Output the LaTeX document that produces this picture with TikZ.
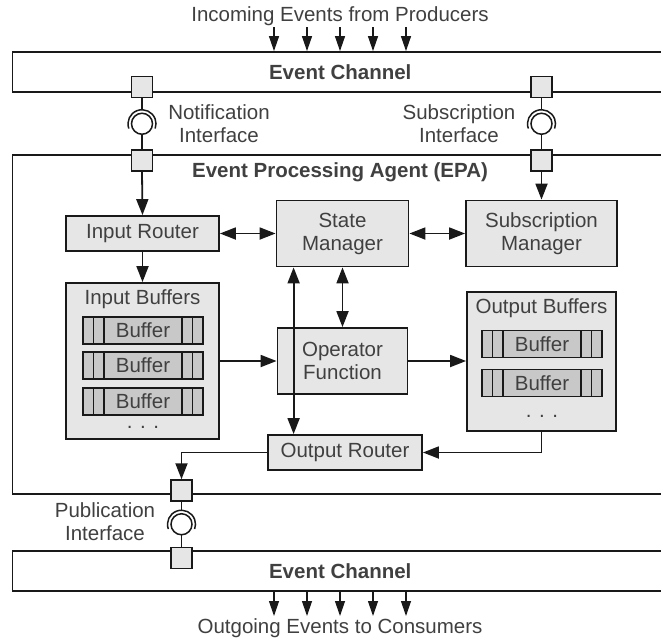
\documentclass[tikz,border=0pt]{standalone}
\usepackage{fontspec}
\setmainfont{Liberation Sans}
\usetikzlibrary{positioning,arrows.meta,calc}
\definecolor{boxgray}{RGB}{230,230,230}
\definecolor{bufgray}{RGB}{200,200,200}
\definecolor{txtgray}{RGB}{64,64,64}
\definecolor{linegray}{RGB}{25,25,25}

\begin{document}
\begin{tikzpicture}[x=1pt,y=-1pt,>={Triangle[length=16pt,width=12pt]},
		every node/.style={text=txtgray,font=\fontsize{20.5}{23}\selectfont}]
		\tikzstyle{block}=[draw=linegray,fill=boxgray,line width=1.8pt,inner sep=0pt,align=center]
		\tikzstyle{channel}=[draw=linegray,fill=white,line width=1.8pt,minimum width=655.5pt,minimum height=40pt,inner sep=0pt,font=\fontsize{20.5}{23}\selectfont\bfseries]
		\tikzstyle{port}=[draw=linegray,fill=boxgray,line width=1.5pt,minimum size=21pt,inner sep=0pt]
		\tikzstyle{buffer}=[draw=linegray,fill=bufgray,line width=1.5pt,minimum width=120pt,minimum height=27pt,inner sep=0pt,outer sep=0pt]
		\tikzstyle{flow}=[->,draw=linegray,line width=1.8pt]
		\tikzstyle{evt}=[-{Triangle[length=15pt,width=10pt]},draw=linegray,line width=1.2pt]
		\tikzstyle{iface}=[draw=linegray,line width=1.5pt]
		\useasboundingbox (0,0) rectangle (661,643);
		% channels and agent
		\node[channel]  (ch1) at (340.25,72)  {Event Channel};
		\node[channel]  (ch2) at (340.25,571) {Event Channel};
		\node[draw=linegray,line width=1.8pt,minimum width=655.5pt,minimum height=339pt] (epa) at (340.25,324.5) {};
		\node[font=\fontsize{20.5}{23}\selectfont\bfseries] (epat) at (340,172) {Event Processing Agent (EPA)};
		\node (tin)  at (340,16)  {Incoming Events from Producers};
		\node (tout) at (340,628) {Outgoing Events to Consumers};
		% ports
		\node[port] (p1) at (142,87)      {};
		\node[port] (p2) at (142,160.5)   {};
		\node[port] (p3) at (541.5,87)    {};
		\node[port] (p4) at (541.5,160.5) {};
		\node[port] (p5) at (181.5,490.5) {};
		\node[port] (p6) at (181.5,558)   {};
		\foreach \a/\b in {p1/p2,p3/p4,p5/p6}{
			\coordinate (ifc) at ($(\a.south)!0.5!(\b.north)$);
			\draw[iface] (\a.south) -- ([yshift=14pt]ifc);
			\draw[iface] ([shift={(200:14pt)}]ifc) arc[start angle=200,end angle=-20,radius=14pt];
			\draw[iface] (ifc) circle[radius=10.5pt];
			\draw[iface] ([yshift=-10.5pt]ifc) -- (\b.north);
		}
		\node[align=center] (nif) at (219,124) {Notification\\Interface};
		\node[align=center] (sif) at (459,124) {Subscription\\Interface};
		\node[align=center] (pif) at (105,522) {Publication\\Interface};
		% blocks
		\node[block,minimum width=153pt,minimum height=35pt]  (ir)   at (142.5,233.5) {Input Router};
		\node[block,minimum width=132pt,minimum height=66pt]  (sm)   [right of=ir,node distance=200pt] {State\\Manager};
		\node[block,minimum width=151pt,minimum height=66pt]  (subm) [right of=sm,node distance=199pt] {Subscription\\Manager};
		\node[block,minimum width=153pt,minimum height=156pt] (ib)   [below of=ir,node distance=127.5pt] {};
		\node[block,minimum width=130pt,minimum height=66pt]  (of)   [below of=sm,node distance=127.5pt] {Operator\\Function};
		\node[block,minimum width=149pt,minimum height=139pt] (ob)   [below of=subm,node distance=128pt] {};
		\node[block,minimum width=154pt,minimum height=35pt]  (or)   at (345,452.5) {Output Router};
		\node (ibt) at ([yshift=-17pt]ib.north) {Input Buffers};
		\node (obt) at ([yshift=-17pt]ob.north) {Output Buffers};
		% buffers
		\node[buffer] (ib1) at (143,330.5) {Buffer};
		\node[buffer] (ib2) at (143,365.5) {Buffer};
		\node[buffer] (ib3) at (143,401.5) {Buffer};
		\node[inner sep=0pt] (ibd) at (143,427) {. . .};
		\node[buffer] (ob1) at (542,344) {Buffer};
		\node[buffer] (ob2) at (542,383) {Buffer};
		\node[inner sep=0pt] (obd) at (542,416) {. . .};
		\foreach \b in {ib1,ib2,ib3,ob1,ob2}{
			\foreach \d in {10.5,21}{
				\draw[linegray,line width=1.3pt] ([xshift=\d pt]\b.north west) -- ([xshift=\d pt]\b.south west);
				\draw[linegray,line width=1.3pt] ([xshift=-\d pt]\b.north east) -- ([xshift=-\d pt]\b.south east);
			}
		}
		% events in and out
		\foreach \x in {274,307,340,373,406}{
			\coordinate (in\x) at (\x,27);
			\draw[evt] (in\x) -- (in\x |- ch1.north);
			\coordinate (out\x) at (\x,616);
			\draw[evt] (out\x |- ch2.south) -- (out\x);
		}
		% flows
		\path
		(p2.south) edge[flow] (ir.north)
		(p4.south) edge[flow] (subm.north)
		(ir.south) edge[flow] (ib.north)
		(ib.east) edge[flow] (of.west)
		(of.east) edge[flow] (of.east -| ob.west)
		(ir.east) edge[flow,<->] (sm.west)
		(sm.east) edge[flow,<->] (subm.west)
		(sm.south) edge[flow,<->] (of.north)
		([xshift=18pt]sm.south west) edge[flow,<->] ([xshift=18pt]sm.south west |- or.north);
		\draw[flow] (ob.south) |- (or.east);
		\draw[flow] (or.west) -| (p5.north);
	\end{tikzpicture}
\end{document}
